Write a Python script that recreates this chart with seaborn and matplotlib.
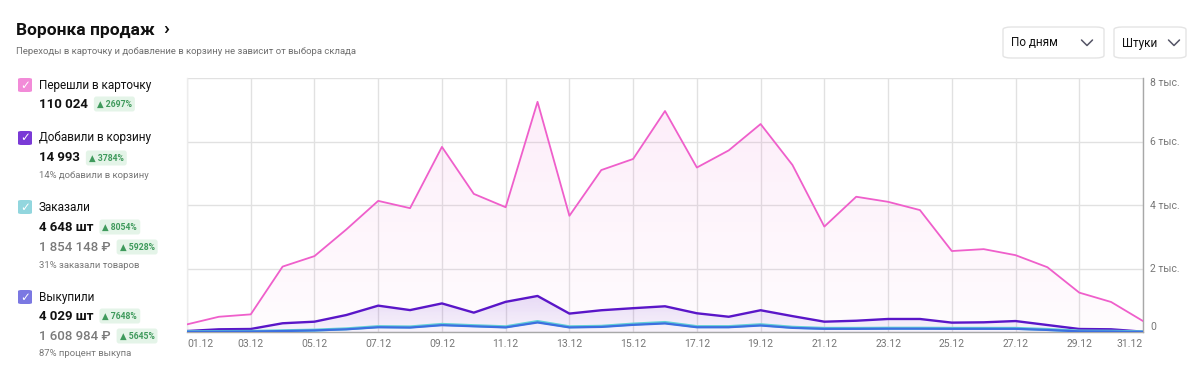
import numpy as np
import pandas as pd
import matplotlib
matplotlib.use("Agg")
import matplotlib.pyplot as plt
from matplotlib.patches import FancyBboxPatch
from matplotlib.colors import LinearSegmentedColormap, to_rgb
import seaborn as sns

# данные по дням (декабрь)
days = list(range(1, 32))
tick_days = list(range(1, 32, 2))
tick_labels = [f"{d:02d}.12" for d in tick_days]
y_ticks = [0, 2000, 4000, 6000, 8000]
y_labels = ["0", "2 тыс.", "4 тыс.", "6 тыс.", "8 тыс."]

views = [240, 480, 555, 2060, 2390, 3230, 4130, 3900, 5830, 4350, 3930, 7250, 3660, 5100, 5450, 6960,
         5180, 5720, 6550, 5260, 3320, 4260, 4100, 3840, 2550, 2610, 2420, 2040, 1240, 945, 345]
carts = [30, 85, 95, 275, 325, 535, 830, 690, 900, 610, 950, 1135, 580, 685, 750, 810,
         590, 480, 685, 500, 325, 355, 410, 410, 295, 305, 345, 220, 95, 85, 10]
orders = [10, 15, 20, 40, 60, 100, 170, 160, 240, 200, 165, 330, 165, 180, 250, 300,
          170, 170, 230, 150, 115, 115, 120, 120, 115, 115, 115, 80, 30, 25, 5]
buyouts = [5, 10, 15, 30, 50, 85, 150, 140, 215, 180, 145, 300, 145, 160, 225, 270,
           150, 150, 205, 130, 100, 100, 105, 105, 100, 100, 100, 65, 20, 15, 0]

series_names = ["Перешли в карточку", "Добавили в корзину", "Заказали", "Выкупили"]
colors = ["#ef5fcb", "#5a16c8", "#62cfd6", "#3d6fe0"]
box_colors = ["#f28bd8", "#7a3ad6", "#92d6de", "#7b78e2"]

df = pd.DataFrame({"day": days * 4,
                   "value": views + carts + orders + buyouts,
                   "series": sum([[n] * len(days) for n in series_names], [])})

sns.set_theme(style="white")
FAM = ["Roboto", "DejaVu Sans"]
plt.rcParams["font.family"] = FAM

fig = plt.figure(figsize=(12, 3.78), dpi=100)
ax = fig.add_axes([187 / 1200, 1 - 332 / 378, (1143 - 187) / 1200, (332 - 78) / 378])


def grad_fill(vals, color, a_top, a_bot):
    poly = ax.fill_between(days, vals, 0, color="none", lw=0)
    rgb = to_rgb(color)
    cmap = LinearSegmentedColormap.from_list("g", [(*rgb, a_bot), (*rgb, a_top)])
    g = np.linspace(0, 1, 256).reshape(-1, 1)
    im = ax.imshow(g, extent=[1, 31, 0, max(vals)], origin="lower", aspect="auto",
                   cmap=cmap, zorder=1)
    im.set_clip_path(poly.get_paths()[0], transform=ax.transData)


grad_fill(views, colors[0], 0.11, 0.02)
grad_fill(carts, colors[1], 0.14, 0.04)

sns.lineplot(data=df, x="day", y="value", hue="series", hue_order=series_names,
             palette=colors, linewidth=1.4, legend=False, ax=ax, zorder=3)
for ln, w in zip(ax.lines, [1.3, 1.7, 2.2, 1.6]):
    ln.set_linewidth(w)

ax.set_xlim(1, 31)
ax.set_ylim(0, 8000)
ax.set_xticks(tick_days)
ax.set_xticklabels(tick_labels, fontsize=7.5, color="#777777")
ax.yaxis.tick_right()
ax.set_yticks(y_ticks)
ax.set_yticklabels(y_labels, fontsize=7.5, color="#777777")
ax.tick_params(axis="both", length=0)
ax.tick_params(axis="x", pad=5)
ax.tick_params(axis="y", pad=5)
# крайние подписи прижаты внутрь
xt = ax.get_xticklabels()
xt[0].set_ha("left")
xt[-1].set_ha("right")
yt = ax.get_yticklabels()
yt[0].set_va("bottom")
yt[-1].set_va("top")
ax.set_xlabel("")
ax.set_ylabel("")
ax.grid(True, color="#e1e1e1", linewidth=1)
ax.set_axisbelow(True)
ax.spines["top"].set_visible(False)
ax.spines["left"].set_color("#ececec")
ax.spines["right"].set_color("#a8a8a8")
ax.spines["bottom"].set_color("#a8a8a8")
for s in ["left", "right", "bottom"]:
    ax.spines[s].set_linewidth(1)


def fx(x):
    return x / 1200


def fy(y):
    return 1 - y / 378


renderer = fig.canvas.get_renderer()


def right_px(t):
    return t.get_window_extent(renderer).x1


# заголовок
title = fig.text(fx(16), fy(30), "Воронка продаж", fontsize=12.5, fontweight="bold", va="center",
                 color="#111111")
fig.text(fx(right_px(title) + 8), fy(29), "›", fontsize=14, va="center", color="#111111",
         fontweight="bold")
fig.text(fx(16), fy(52), "Переходы в карточку и добавление в корзину не зависит от выбора склада",
         fontsize=6.8, va="center", color="#6f6f6f")

# переключатели
for x0, w, tx, cx_off, label in [(1003, 101, 8, 17, "По дням"), (1114, 72, 8, 12, "Штуки")]:
    fig.patches.append(FancyBboxPatch((fx(x0), fy(58)), fx(w), 31 / 378,
                                      boxstyle="round,pad=0,rounding_size=0.007",
                                      transform=fig.transFigure, fc="white", ec="#e4e4e4", lw=1))
    fig.text(fx(x0 + tx), fy(43), label, fontsize=8.5, va="center", color="#111111")
    cx = x0 + w - cx_off
    fig.lines.append(plt.Line2D([fx(cx - 5.5), fx(cx), fx(cx + 5.5)], [fy(40), fy(45.5), fy(40)],
                                transform=fig.transFigure, color="#555566", lw=1.1))


def checkbox(y, color):
    fig.patches.append(FancyBboxPatch((fx(18), fy(y + 7)), fx(14), 14 / 378,
                                      boxstyle="round,pad=0,rounding_size=0.003",
                                      transform=fig.transFigure, fc=color, ec="none"))
    fig.text(fx(25), fy(y), "✓", fontsize=8.5, ha="center", va="center", color="white",
             family="DejaVu Sans", fontweight="bold")


def badge(x, y, txt):
    fig.text(fx(x), fy(y), "▲ " + txt, fontsize=6.2, va="center", color="#3f9a5c",
             family=FAM, fontweight="bold",
             bbox=dict(boxstyle="round,pad=0.35,rounding_size=0.3", fc="#e4f4e8", ec="none"))


left_x = 39
items = [
    (85, series_names[0], [("110 024", 104, "2697%", True)], None),
    (138, series_names[1], [("14 993", 158, "3784%", True)], "14% добавили в корзину"),
    (207, series_names[2], [("4 648 шт", 227, "8054%", True),
                            ("1 854 148 ₽", 247, "5928%", False)], "31% заказали товаров"),
    (297, series_names[3], [("4 029 шт", 316, "7648%", True),
                            ("1 608 984 ₽", 336, "5645%", False)], "87% процент выкупа"),
]
for (y, name, nums, note), bc in zip(items, box_colors):
    checkbox(y, bc)
    fig.text(fx(left_x), fy(y), name, fontsize=8.5, va="center", color="#111111")
    last_y = y
    for txt, ny, pct, main in nums:
        t = fig.text(fx(left_x), fy(ny), txt, fontsize=9.5,
                     fontweight="bold" if main else "medium",
                     va="center", color="#111111" if main else "#7a7a7a", family=FAM)
        badge(right_px(t) + 9, ny, pct)
        last_y = ny
    if note:
        fig.text(fx(left_x), fy(last_y + 18), note, fontsize=6.8, va="center", color="#777777")

fig.savefig("out.png", dpi=100, facecolor="white")
